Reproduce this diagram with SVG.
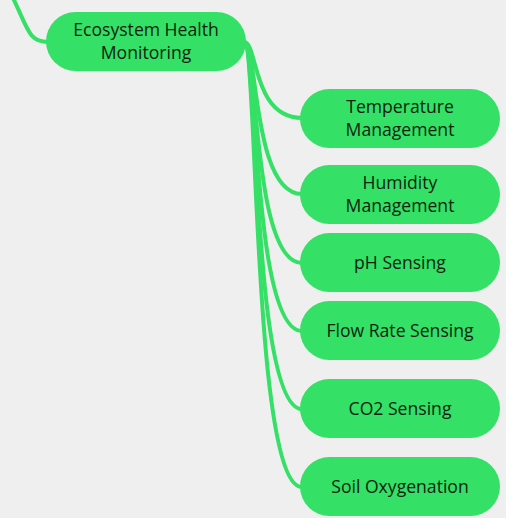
<svg xmlns="http://www.w3.org/2000/svg" width="506" height="518" viewBox="0 0 506 518">
<style>
.bg{fill:#efefef}
.n rect{fill:#34e066;stroke:none}
.n text{font-family:"Open Sans","Noto Sans",sans-serif;font-size:17.6px;fill:#0f1f0f;text-anchor:middle}
.c path{fill:none;stroke:#34e066;stroke-width:4;stroke-linecap:round}
</style>
<rect class="bg" width="506" height="518"/>
<g class="c" id="connectors">
<path d="M12,-4 C28,28 28,42 48,42"/>
<path d="M244,42 C258,42 252,118 302,118"/>
<path d="M244,42 C258,42 252,194 302,194"/>
<path d="M244,42 C258,42 252,263 302,263"/>
<path d="M244,42 C258,42 252,331 302,331"/>
<path d="M244,42 C258,42 252,409 302,409"/>
<path d="M244,42 C258,42 252,487 302,487"/>
</g>
<g class="n" id="root"><rect x="46" y="12" width="200" height="59" rx="29.5"/><text x="146" y="36">Ecosystem Health</text><text x="146" y="59">Monitoring</text></g>
<g class="n" id="temp"><rect x="300" y="89" width="200" height="59" rx="29.5"/><text x="400" y="113">Temperature</text><text x="400" y="136">Management</text></g>
<g class="n" id="humid"><rect x="300" y="165" width="200" height="59" rx="29.5"/><text x="400" y="189">Humidity</text><text x="400" y="212">Management</text></g>
<g class="n" id="ph"><rect x="300" y="233" width="200" height="59" rx="29.5"/><text x="400" y="268.5">pH Sensing</text></g>
<g class="n" id="flow"><rect x="300" y="301" width="200" height="59" rx="29.5"/><text x="400" y="336.5">Flow Rate Sensing</text></g>
<g class="n" id="co2"><rect x="300" y="379" width="200" height="59" rx="29.5"/><text x="400" y="414.5">CO2 Sensing</text></g>
<g class="n" id="soil"><rect x="300" y="457" width="200" height="59" rx="29.5"/><text x="400" y="492.5">Soil Oxygenation</text></g>
</svg>
